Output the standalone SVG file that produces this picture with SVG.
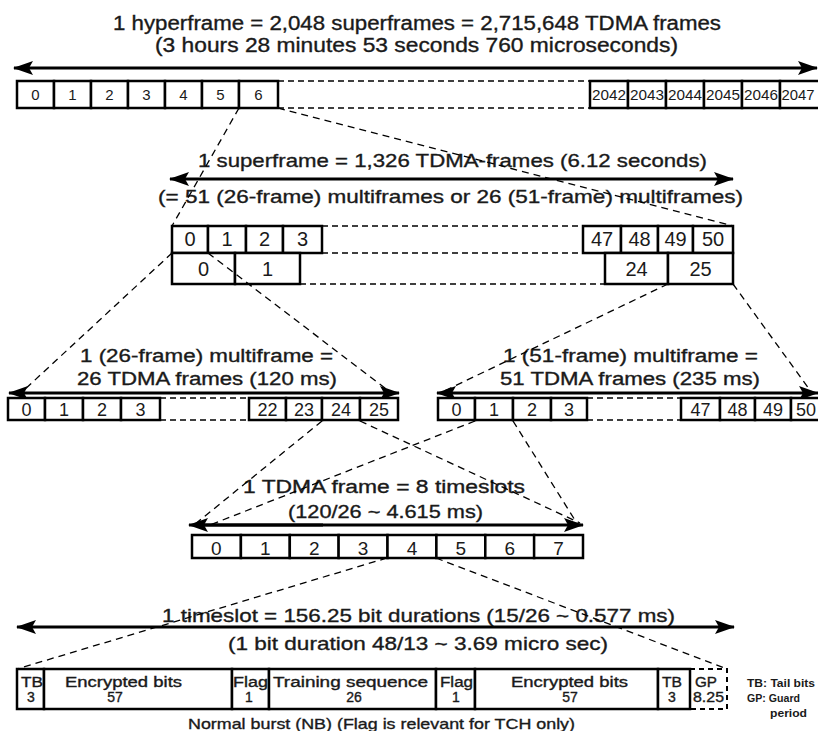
<svg xmlns="http://www.w3.org/2000/svg" width="818" height="731" viewBox="0 0 818 731">
<style>
  .t{font-family:"Liberation Sans",Arial,sans-serif;fill:#1a1a1a}
  .hv{stroke:#1a1a1a;stroke-width:0.35}
  .big{font-size:20px}
  .mid{font-size:18px}
  .num{text-anchor:middle}
  .cell{fill:#fff;stroke:#000;stroke-width:2.5}
  .arrow{stroke:#000;stroke-width:3;fill:none;marker-start:url(#ah);marker-end:url(#ah)}
  .hdash{stroke:#000;stroke-width:1.5;stroke-dasharray:6 4;fill:none}
  .conn{stroke:#000;stroke-width:1.3;stroke-dasharray:7 5;fill:none}
  .lg{font-size:10.5px;font-weight:bold}
</style>
<defs>
  <marker id="ah" viewBox="0 0 20 14" refX="19" refY="7" markerWidth="20" markerHeight="14" markerUnits="userSpaceOnUse" orient="auto-start-reverse">
    <path d="M0,0 L20,7 L0,14 L4,7 z" fill="#000"/>
  </marker>
</defs>
<rect width="818" height="731" fill="#fff"/>

<g id="hyperframe">
  <text class="t big hv" x="113" y="30" textLength="608" lengthAdjust="spacingAndGlyphs">1 hyperframe = 2,048 superframes = 2,715,648 TDMA frames</text>
  <text class="t big hv" x="155" y="52" textLength="523" lengthAdjust="spacingAndGlyphs">(3 hours 28 minutes 53 seconds 760 microseconds)</text>
  <line class="arrow" x1="14" y1="68" x2="817" y2="68"/>
  <rect class="cell" x="17" y="81" width="37" height="27"/>
  <rect class="cell" x="54" y="81" width="37" height="27"/>
  <rect class="cell" x="91" y="81" width="37" height="27"/>
  <rect class="cell" x="128" y="81" width="37" height="27"/>
  <rect class="cell" x="165" y="81" width="37" height="27"/>
  <rect class="cell" x="202" y="81" width="37" height="27"/>
  <rect class="cell" x="239" y="81" width="39" height="27"/>
  <g class="t num" font-size="15">
    <text x="35.5" y="100">0</text><text x="72.5" y="100">1</text><text x="109.5" y="100">2</text><text x="146.5" y="100">3</text><text x="183.5" y="100">4</text><text x="220.5" y="100">5</text><text x="258.5" y="100">6</text>
  </g>
  <line class="hdash" x1="278" y1="81" x2="590" y2="81"/>
  <line class="hdash" x1="278" y1="108" x2="590" y2="108"/>
  <rect class="cell" x="590" y="81" width="38" height="27"/>
  <rect class="cell" x="628" y="81" width="38" height="27"/>
  <rect class="cell" x="666" y="81" width="38" height="27"/>
  <rect class="cell" x="704" y="81" width="38" height="27"/>
  <rect class="cell" x="742" y="81" width="38" height="27"/>
  <rect class="cell" x="780" y="81" width="42" height="27"/>
  <g class="t num" font-size="15">
    <text x="609" y="100" textLength="34" lengthAdjust="spacingAndGlyphs">2042</text>
    <text x="647" y="100" textLength="34" lengthAdjust="spacingAndGlyphs">2043</text>
    <text x="685" y="100" textLength="34" lengthAdjust="spacingAndGlyphs">2044</text>
    <text x="723" y="100" textLength="34" lengthAdjust="spacingAndGlyphs">2045</text>
    <text x="761" y="100" textLength="34" lengthAdjust="spacingAndGlyphs">2046</text>
    <text x="798" y="100" textLength="33" lengthAdjust="spacingAndGlyphs">2047</text>
  </g>
</g>

<g id="superframe">
  <text class="t hv" font-size="19" x="198" y="167" textLength="509" lengthAdjust="spacingAndGlyphs">1 superframe = 1,326 TDMA-frames (6.12 seconds)</text>
  <text class="t hv" font-size="19" x="158" y="203" textLength="585" lengthAdjust="spacingAndGlyphs">(= 51 (26-frame) multiframes or 26 (51-frame) multiframes)</text>
  <line class="arrow" x1="170" y1="179" x2="733" y2="179"/>
  <rect class="cell" x="172" y="226" width="36" height="27"/>
  <rect class="cell" x="208" y="226" width="38" height="27"/>
  <rect class="cell" x="246" y="226" width="37" height="27"/>
  <rect class="cell" x="283" y="226" width="39" height="27"/>
  <rect class="cell" x="172" y="253" width="63" height="31"/>
  <rect class="cell" x="235" y="253" width="65" height="31"/>
  <line class="hdash" x1="322" y1="226" x2="583" y2="226" stroke-dasharray="8 8"/>
  <line class="hdash" x1="322" y1="253" x2="583" y2="253" stroke-dasharray="8 8"/>
  <line class="hdash" x1="300" y1="284" x2="605" y2="284" stroke-dasharray="8 8"/>
  <rect class="cell" x="583" y="226" width="38" height="27"/>
  <rect class="cell" x="621" y="226" width="37" height="27"/>
  <rect class="cell" x="658" y="226" width="35" height="27"/>
  <rect class="cell" x="693" y="226" width="40" height="27"/>
  <rect class="cell" x="605" y="253" width="63" height="31"/>
  <rect class="cell" x="668" y="253" width="65" height="31"/>
  <g class="t num" font-size="20">
    <text x="190" y="246">0</text><text x="227" y="246">1</text><text x="264.5" y="246">2</text><text x="302.5" y="246">3</text>
    <text x="203.5" y="276">0</text><text x="267.5" y="276">1</text>
    <text x="602" y="246">47</text><text x="639.5" y="246">48</text><text x="675.5" y="246">49</text><text x="713" y="246">50</text>
    <text x="636.5" y="276">24</text><text x="700.5" y="276">25</text>
  </g>
</g>

<g id="multiframe26">
  <text class="t mid hv" x="80" y="362" textLength="253" lengthAdjust="spacingAndGlyphs">1 (26-frame) multiframe =</text>
  <text class="t mid hv" x="77" y="385" textLength="260" lengthAdjust="spacingAndGlyphs">26 TDMA frames (120 ms)</text>
  <line class="arrow" x1="9" y1="393" x2="399" y2="393" stroke-width="2.5"/>
  <rect class="cell" x="8" y="398" width="37" height="22"/>
  <rect class="cell" x="45" y="398" width="38" height="22"/>
  <rect class="cell" x="83" y="398" width="38" height="22"/>
  <rect class="cell" x="121" y="398" width="39" height="22"/>
  <line class="hdash" x1="160" y1="398" x2="249" y2="398"/>
  <line class="hdash" x1="160" y1="420" x2="249" y2="420"/>
  <rect class="cell" x="249" y="398" width="37" height="22"/>
  <rect class="cell" x="286" y="398" width="36" height="22"/>
  <rect class="cell" x="322" y="398" width="38" height="22"/>
  <rect class="cell" x="360" y="398" width="38" height="22"/>
  <g class="t num" font-size="18">
    <text x="26.5" y="416">0</text><text x="64" y="416">1</text><text x="102" y="416">2</text><text x="140.5" y="416">3</text>
    <text x="267.5" y="416">22</text><text x="304" y="416">23</text><text x="341" y="416">24</text><text x="379" y="416">25</text>
  </g>
</g>

<g id="multiframe51">
  <text class="t mid hv" x="503" y="362" textLength="255" lengthAdjust="spacingAndGlyphs">1 (51-frame) multiframe =</text>
  <text class="t mid hv" x="500" y="385" textLength="260" lengthAdjust="spacingAndGlyphs">51 TDMA frames (235 ms)</text>
  <line class="arrow" x1="437" y1="393" x2="818" y2="393" stroke-width="2.5"/>
  <rect class="cell" x="438" y="398" width="37" height="22"/>
  <rect class="cell" x="475" y="398" width="38" height="22"/>
  <rect class="cell" x="513" y="398" width="38" height="22"/>
  <rect class="cell" x="551" y="398" width="36" height="22"/>
  <line class="hdash" x1="587" y1="398" x2="681" y2="398"/>
  <line class="hdash" x1="587" y1="420" x2="681" y2="420"/>
  <rect class="cell" x="681" y="398" width="39" height="22"/>
  <rect class="cell" x="720" y="398" width="35" height="22"/>
  <rect class="cell" x="755" y="398" width="36" height="22"/>
  <rect class="cell" x="791" y="398" width="40" height="22"/>
  <g class="t num" font-size="18">
    <text x="456.5" y="416">0</text><text x="494" y="416">1</text><text x="532" y="416">2</text><text x="569" y="416">3</text>
    <text x="700.5" y="416">47</text><text x="737.5" y="416">48</text><text x="773" y="416">49</text><text x="806" y="416">50</text>
  </g>
</g>

<g id="tdmaframe">
  <text class="t mid hv" x="243" y="493" textLength="282" lengthAdjust="spacingAndGlyphs">1 TDMA frame = 8 timeslots</text>
  <text class="t mid hv" x="288" y="518" textLength="195" lengthAdjust="spacingAndGlyphs">(120/26 ~ 4.615 ms)</text>
  <line class="arrow" x1="189" y1="525" x2="583" y2="525" stroke-width="2"/>
  <line x1="200" y1="525" x2="323" y2="525" stroke="#000" stroke-width="3"/>
  <rect class="cell" x="192" y="535" width="48.9" height="23"/>
  <rect class="cell" x="240.9" y="535" width="48.9" height="23"/>
  <rect class="cell" x="289.8" y="535" width="48.9" height="23"/>
  <rect class="cell" x="338.6" y="535" width="48.9" height="23"/>
  <rect class="cell" x="387.5" y="535" width="48.9" height="23"/>
  <rect class="cell" x="436.4" y="535" width="48.9" height="23"/>
  <rect class="cell" x="485.3" y="535" width="48.9" height="23"/>
  <rect class="cell" x="534.1" y="535" width="48.9" height="23"/>
  <g class="t num" font-size="19">
    <text x="216.4" y="555">0</text><text x="265.3" y="555">1</text><text x="314.2" y="555">2</text><text x="363.1" y="555">3</text>
    <text x="412" y="555">4</text><text x="460.8" y="555">5</text><text x="509.7" y="555">6</text><text x="558.6" y="555">7</text>
  </g>
</g>

<g id="timeslot">
  <text class="t hv" font-size="19" x="162" y="622" textLength="513" lengthAdjust="spacingAndGlyphs">1 timeslot = 156.25 bit durations (15/26 ~ 0.577 ms)</text>
  <text class="t hv" font-size="19" x="228" y="650" textLength="380" lengthAdjust="spacingAndGlyphs">(1 bit duration 48/13 ~ 3.69 micro sec)</text>
  <line class="arrow" x1="17" y1="627" x2="734" y2="627"/>
</g>

<g id="burst">
  <rect class="cell" x="17" y="669" width="27" height="40" stroke-width="3"/>
  <rect class="cell" x="44" y="669" width="188" height="40" stroke-width="3"/>
  <rect class="cell" x="232" y="669" width="37" height="40" stroke-width="3"/>
  <rect class="cell" x="269" y="669" width="167" height="40" stroke-width="3"/>
  <rect class="cell" x="436" y="669" width="39" height="40" stroke-width="3"/>
  <rect class="cell" x="475" y="669" width="183" height="40" stroke-width="3"/>
  <rect class="cell" x="658" y="669" width="32" height="40" stroke-width="3"/>
  <path d="M690,669 H727 V709 H690" fill="none" stroke="#000" stroke-width="2" stroke-dasharray="5 4"/>
  <g class="t hv" font-size="14">
    <text x="21" y="687" textLength="22" lengthAdjust="spacingAndGlyphs">TB</text>
    <text x="31" y="702" class="num">3</text>
    <text x="65" y="687" textLength="117" lengthAdjust="spacingAndGlyphs">Encrypted bits</text>
    <text x="115" y="702" class="num">57</text>
    <text x="233" y="687" textLength="35" lengthAdjust="spacingAndGlyphs">Flag</text>
    <text x="249" y="702" class="num">1</text>
    <text x="273" y="687" textLength="155" lengthAdjust="spacingAndGlyphs">Training sequence</text>
    <text x="354" y="702" class="num">26</text>
    <text x="440" y="687" textLength="33" lengthAdjust="spacingAndGlyphs">Flag</text>
    <text x="456" y="702" class="num">1</text>
    <text x="511" y="687" textLength="117" lengthAdjust="spacingAndGlyphs">Encrypted bits</text>
    <text x="570" y="702" class="num">57</text>
    <text x="662" y="687" textLength="20" lengthAdjust="spacingAndGlyphs">TB</text>
    <text x="672" y="702" class="num">3</text>
    <text x="695" y="687" textLength="22" lengthAdjust="spacingAndGlyphs">GP</text>
    <text x="693" y="702" textLength="31" lengthAdjust="spacingAndGlyphs">8.25</text>
  </g>
  <text class="t hv" font-size="15" x="188" y="729" textLength="387" lengthAdjust="spacingAndGlyphs">Normal burst (NB) (Flag is relevant for TCH only)</text>
</g>

<g id="legend">
  <text class="t lg" x="747" y="687" textLength="68" lengthAdjust="spacingAndGlyphs">TB: Tail bits</text>
  <text class="t lg" x="747" y="702" textLength="53" lengthAdjust="spacingAndGlyphs">GP: Guard</text>
  <text class="t lg" x="770" y="717" textLength="37" lengthAdjust="spacingAndGlyphs">period</text>
</g>

<g id="connectors">
  <line class="conn" x1="239" y1="108" x2="172" y2="226"/>
  <line class="conn" x1="278" y1="108" x2="733" y2="226"/>
  <line class="conn" x1="172" y1="253" x2="22" y2="392"/>
  <line class="conn" x1="208" y1="253" x2="390" y2="392"/>
  <line class="conn" x1="668" y1="284" x2="440" y2="393"/>
  <line class="conn" x1="733" y1="284" x2="812" y2="393"/>
  <line class="conn" x1="322" y1="421" x2="194" y2="525"/>
  <line class="conn" x1="360" y1="421" x2="580" y2="523"/>
  <line class="conn" x1="475" y1="421" x2="210" y2="525"/>
  <line class="conn" x1="513" y1="421" x2="578" y2="525"/>
  <line class="conn" x1="387" y1="558" x2="17" y2="669"/>
  <line class="conn" x1="436" y1="558" x2="727" y2="669"/>
</g>
</svg>
